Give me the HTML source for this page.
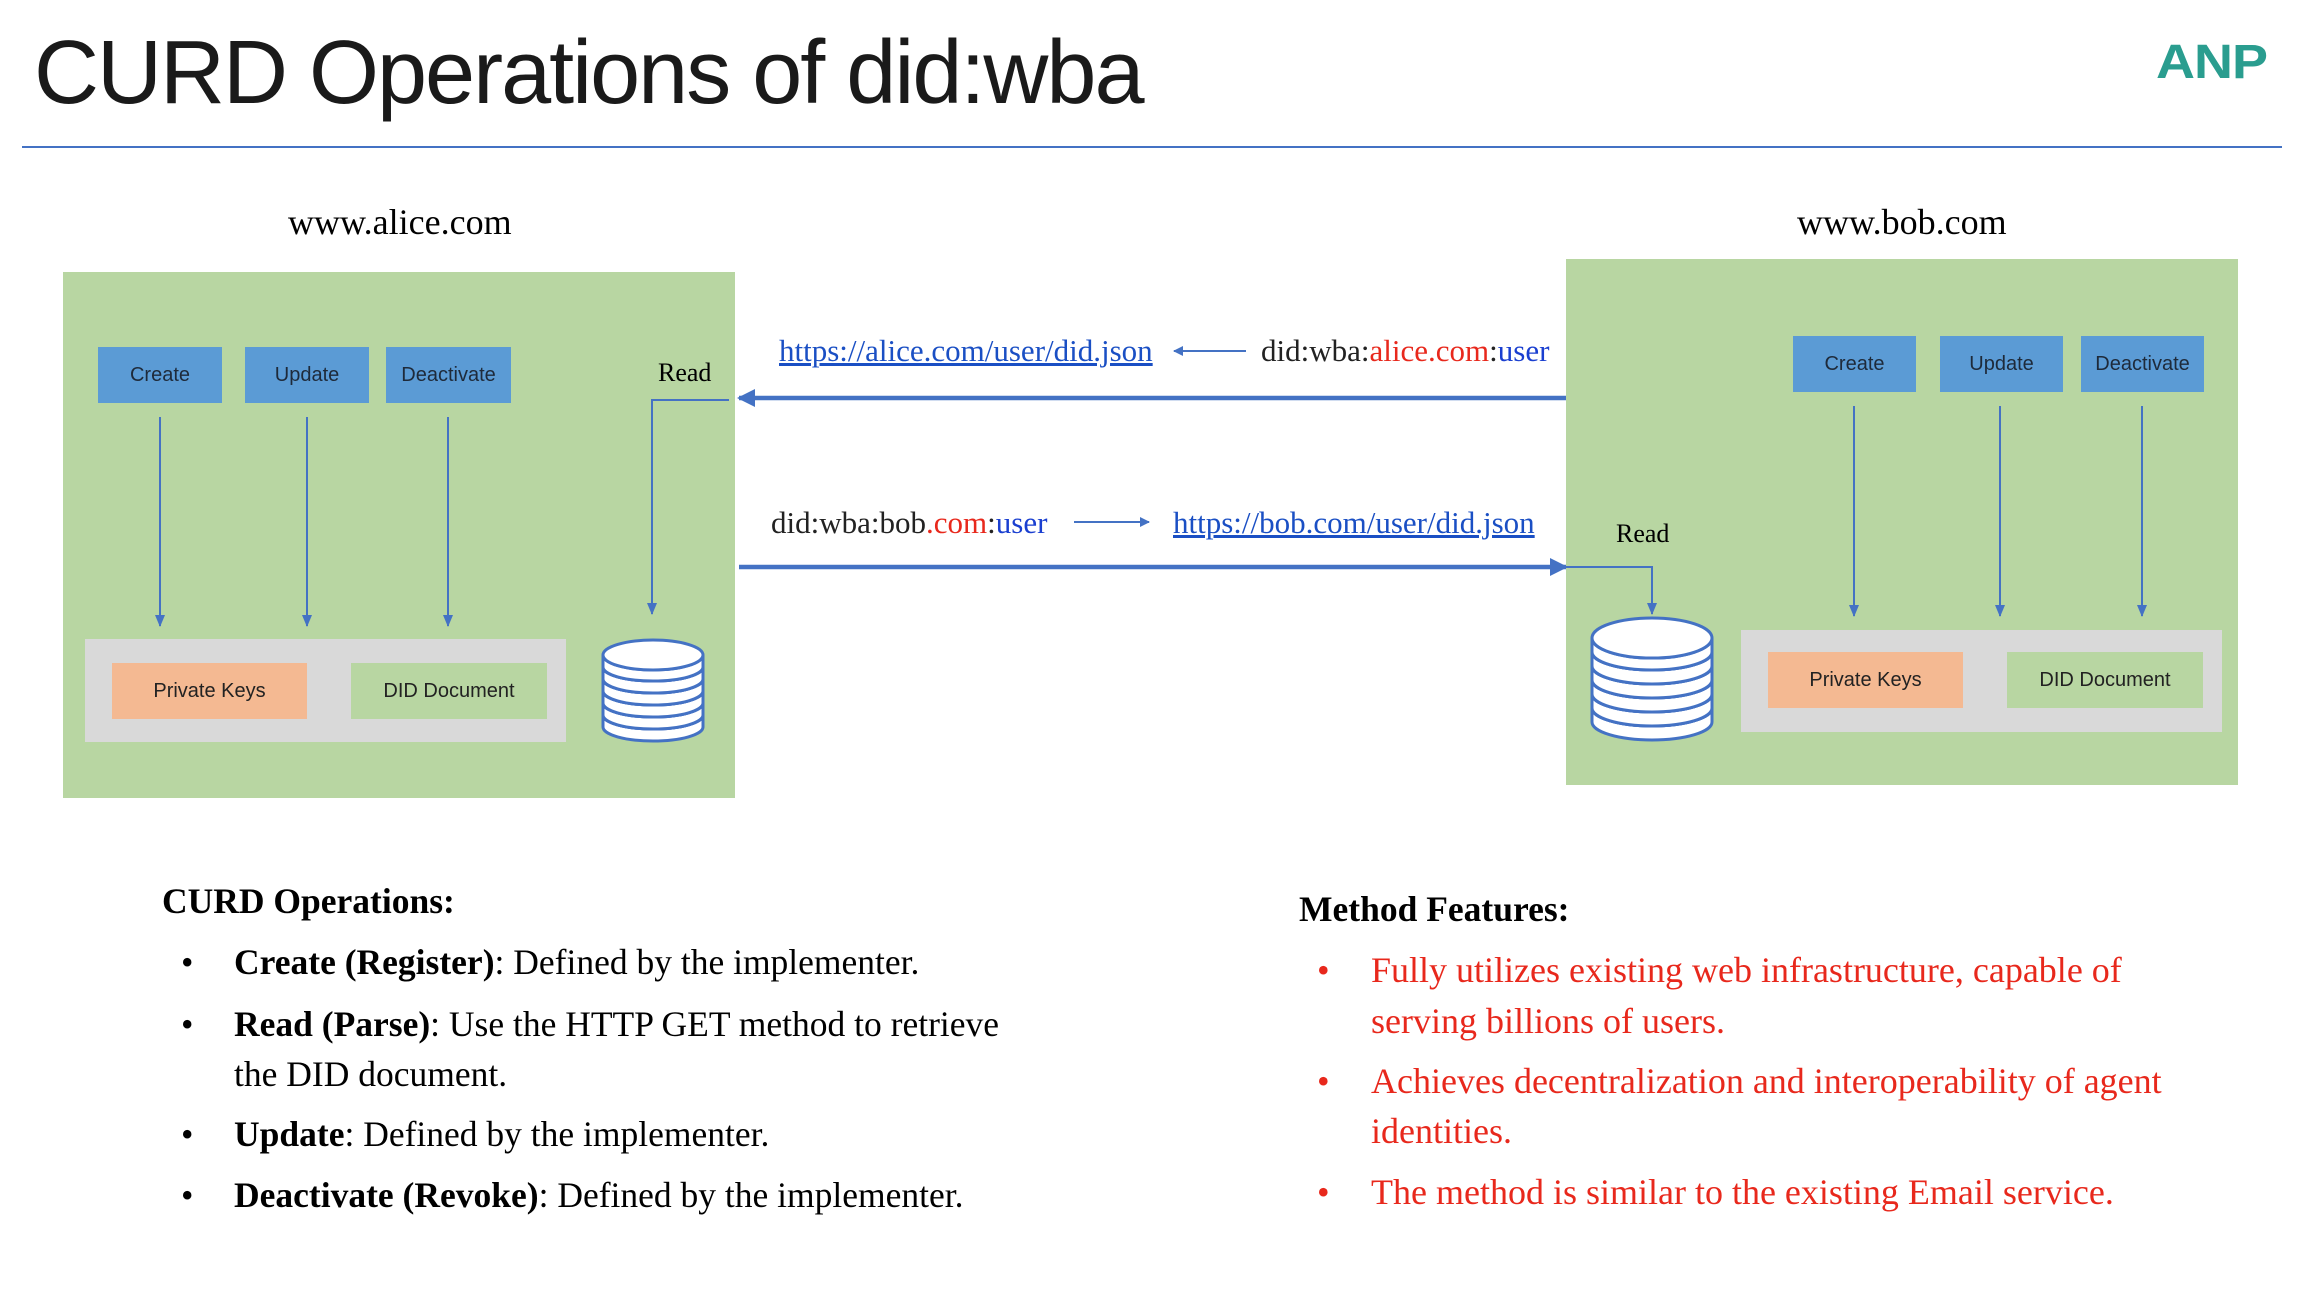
<!DOCTYPE html>
<html><head><meta charset="utf-8">
<style>
body{margin:0;width:2304px;height:1296px;background:#fff;position:relative;overflow:hidden;font-family:"Liberation Serif",serif}
.a{position:absolute;white-space:nowrap}
.g{position:absolute;background:#b8d6a2}
.btn{position:absolute;background:#5b9bd5;color:#1e2a3a;font:20px "Liberation Sans",sans-serif;display:flex;align-items:center;justify-content:center}
.box{position:absolute;font:20px "Liberation Sans",sans-serif;color:#222;display:flex;align-items:center;justify-content:center}
.t{font-size:35.5px;line-height:35px;color:#000}
.r{font-size:36px;line-height:35px;color:#e8281c}
.lk{color:#1a4fc4;text-decoration:underline;font-size:31px;line-height:29px}
.d{font-size:31px;line-height:29px;color:#222}
</style></head><body>
<div class="a" style="left:34px;top:28px;font:90px/90px 'Liberation Sans',sans-serif;letter-spacing:-2px;color:#1a1a1a">CURD Operations of did:wba</div>
<div class="a" style="left:2156px;top:34px;font:bold 54px/56px 'Liberation Sans',sans-serif;color:#2a9d8f;letter-spacing:-1px;transform:scaleY(0.9)">ANP</div>
<div class="a" style="left:22px;top:146px;width:2260px;height:2px;background:#4472c4"></div>

<div class="a" style="left:288px;top:205px;font-size:36px;line-height:35px">www.alice.com</div>
<div class="a" style="left:1797px;top:205px;font-size:36px;line-height:35px">www.bob.com</div>

<div class="g" style="left:63px;top:272px;width:672px;height:526px"></div>
<div class="g" style="left:1566px;top:259px;width:672px;height:526px"></div>

<div class="btn" style="left:98px;top:347px;width:124px;height:56px">Create</div>
<div class="btn" style="left:245px;top:347px;width:124px;height:56px">Update</div>
<div class="btn" style="left:386px;top:347px;width:125px;height:56px">Deactivate</div>
<div class="a" style="left:85px;top:639px;width:481px;height:103px;background:#d9d9d9"></div>
<div class="box" style="left:112px;top:663px;width:195px;height:56px;background:#f4b992">Private Keys</div>
<div class="box" style="left:351px;top:663px;width:196px;height:56px;background:#b8d6a2">DID Document</div>

<div class="btn" style="left:1793px;top:336px;width:123px;height:56px">Create</div>
<div class="btn" style="left:1940px;top:336px;width:123px;height:56px">Update</div>
<div class="btn" style="left:2081px;top:336px;width:123px;height:56px">Deactivate</div>
<div class="a" style="left:1741px;top:630px;width:481px;height:102px;background:#d9d9d9"></div>
<div class="box" style="left:1768px;top:652px;width:195px;height:56px;background:#f4b992">Private Keys</div>
<div class="box" style="left:2007px;top:652px;width:196px;height:56px;background:#b8d6a2">DID Document</div>

<div class="a" style="left:658px;top:360px;font-size:26px;line-height:26px">Read</div>
<div class="a" style="left:1616px;top:521px;font-size:26px;line-height:26px">Read</div>

<div class="a lk" style="left:779px;top:336px">https://alice.com/user/did.json</div>
<div class="a d" style="left:1261px;top:336px">did:wba:<span style="color:#e8281c">alice.com</span>:<span style="color:#1a3fd0">user</span></div>
<div class="a d" style="left:771px;top:508px">did:wba:bob<span style="color:#e8281c">.com</span>:<span style="color:#1a3fd0">user</span></div>
<div class="a lk" style="left:1173px;top:508px">https://bob.com/user/did.json</div>

<svg class="a" style="left:0;top:0" width="2304" height="1296">
<defs>
<marker id="m" markerWidth="10" markerHeight="10" refX="9" refY="5" orient="auto" markerUnits="userSpaceOnUse"><path d="M0,0 L10,5 L0,10 Z" fill="#4472c4"/></marker>
<marker id="mb" markerWidth="18" markerHeight="18" refX="16" refY="9" orient="auto" markerUnits="userSpaceOnUse"><path d="M0,0 L18,9 L0,18 Z" fill="#4472c4"/></marker>
<marker id="ms" markerWidth="12" markerHeight="12" refX="11" refY="6" orient="auto" markerUnits="userSpaceOnUse"><path d="M0,1 L12,6 L0,11 Z" fill="#4472c4"/></marker>
</defs>
<g stroke="#4472c4" stroke-width="2" fill="none">
<line x1="160" y1="417" x2="160" y2="626" marker-end="url(#ms)"/>
<line x1="307" y1="417" x2="307" y2="626" marker-end="url(#ms)"/>
<line x1="448" y1="417" x2="448" y2="626" marker-end="url(#ms)"/>
<line x1="1854" y1="406" x2="1854" y2="616" marker-end="url(#ms)"/>
<line x1="2000" y1="406" x2="2000" y2="616" marker-end="url(#ms)"/>
<line x1="2142" y1="406" x2="2142" y2="616" marker-end="url(#ms)"/>
<polyline points="729,400 652,400 652,614" marker-end="url(#ms)"/>
<polyline points="1566,567 1652,567 1652,614" marker-end="url(#ms)"/>
<line x1="1246" y1="351" x2="1174" y2="351" marker-end="url(#m)"/>
<line x1="1074" y1="522" x2="1149" y2="522" marker-end="url(#m)"/>
<line x1="1566" y1="398" x2="739" y2="398" stroke-width="4.5" marker-end="url(#mb)"/>
<line x1="739" y1="567" x2="1566" y2="567" stroke-width="4.5" marker-end="url(#mb)"/>
</g>
<g stroke="#4472c4" stroke-width="3" fill="#fff">
<path d="M603,715 A50,14 0 0 0 703,715 L703,727 A50,14 0 0 1 603,727 Z"/><ellipse cx="653" cy="715" rx="50" ry="14"/>
<path d="M603,703 A50,14 0 0 0 703,703 L703,715 A50,14 0 0 1 603,715 Z"/><ellipse cx="653" cy="703" rx="50" ry="14"/>
<path d="M603,691 A50,14 0 0 0 703,691 L703,703 A50,14 0 0 1 603,703 Z"/><ellipse cx="653" cy="691" rx="50" ry="14"/>
<path d="M603,679 A50,14 0 0 0 703,679 L703,691 A50,14 0 0 1 603,691 Z"/><ellipse cx="653" cy="679" rx="50" ry="14"/>
<path d="M603,667 A50,14 0 0 0 703,667 L703,679 A50,14 0 0 1 603,679 Z"/><ellipse cx="653" cy="667" rx="50" ry="14"/>
<path d="M603,655 A50,15 0 0 0 703,655 L703,667 A50,14 0 0 1 603,667 Z"/><ellipse cx="653" cy="655" rx="50" ry="15"/>
<path d="M1592,708 A60,18 0 0 0 1712,708 L1712,722 A60,18 0 0 1 1592,722 Z"/><ellipse cx="1652" cy="708" rx="60" ry="18"/>
<path d="M1592,694 A60,18 0 0 0 1712,694 L1712,708 A60,18 0 0 1 1592,708 Z"/><ellipse cx="1652" cy="694" rx="60" ry="18"/>
<path d="M1592,680 A60,18 0 0 0 1712,680 L1712,694 A60,18 0 0 1 1592,694 Z"/><ellipse cx="1652" cy="680" rx="60" ry="18"/>
<path d="M1592,666 A60,18 0 0 0 1712,666 L1712,680 A60,18 0 0 1 1592,680 Z"/><ellipse cx="1652" cy="666" rx="60" ry="18"/>
<path d="M1592,652 A60,18 0 0 0 1712,652 L1712,666 A60,18 0 0 1 1592,666 Z"/><ellipse cx="1652" cy="652" rx="60" ry="18"/>
<path d="M1592,638 A60,20 0 0 0 1712,638 L1712,652 A60,18 0 0 1 1592,652 Z"/><ellipse cx="1652" cy="638" rx="60" ry="20"/>
</g>
</svg>

<div class="a t" style="left:162px;top:884px;font-weight:bold">CURD Operations:</div>
<div class="a t" style="left:181px;top:945px">•</div>
<div class="a t" style="left:234px;top:945px"><b>Create (Register)</b>: Defined by the implementer.</div>
<div class="a t" style="left:181px;top:1007px">•</div>
<div class="a t" style="left:234px;top:1007px"><b>Read (Parse)</b>: Use the HTTP GET method to retrieve</div>
<div class="a t" style="left:234px;top:1057px">the DID document.</div>
<div class="a t" style="left:181px;top:1117px">•</div>
<div class="a t" style="left:234px;top:1117px"><b>Update</b>: Defined by the implementer.</div>
<div class="a t" style="left:181px;top:1178px">•</div>
<div class="a t" style="left:234px;top:1178px"><b>Deactivate (Revoke)</b>: Defined by the implementer.</div>

<div class="a t" style="left:1299px;top:892px;font-weight:bold">Method Features:</div>
<div class="a r" style="left:1317px;top:953px">•</div>
<div class="a r" style="left:1371px;top:953px">Fully utilizes existing web infrastructure, capable of</div>
<div class="a r" style="left:1371px;top:1004px">serving billions of users.</div>
<div class="a r" style="left:1317px;top:1064px">•</div>
<div class="a r" style="left:1371px;top:1064px">Achieves decentralization and interoperability of agent</div>
<div class="a r" style="left:1371px;top:1114px">identities.</div>
<div class="a r" style="left:1317px;top:1175px">•</div>
<div class="a r" style="left:1371px;top:1175px">The method is similar to the existing Email service.</div>
</body></html>
